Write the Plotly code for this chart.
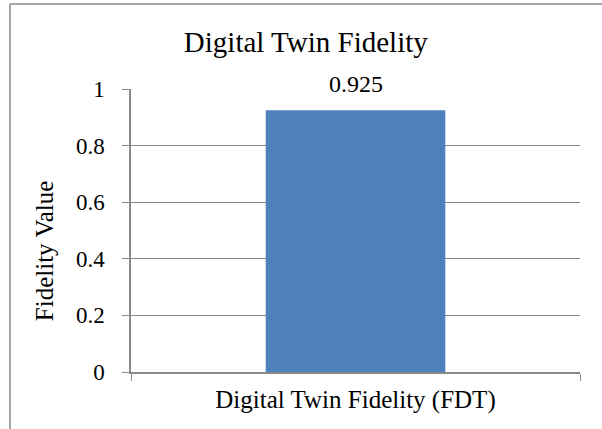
import plotly.graph_objects as go

categories = ["Digital Twin Fidelity (FDT)"]
values = [0.925]
value_labels = ["0.925"]
y_ticks = [0, 0.2, 0.4, 0.6, 0.8, 1]

grey = "#898989"
serif = "Liberation Serif, Times New Roman, serif"

fig = go.Figure()
fig.add_trace(go.Bar(
    x=categories,
    y=values,
    width=0.4,
    marker=dict(color="#4F81BD", line=dict(width=0)),
    showlegend=False,
    hoverinfo="skip",
))

# value label above the bar (it overlaps the top gridline in the reference)
for c, v, t in zip(categories, values, value_labels):
    fig.add_annotation(x=c, y=v, text=t, showarrow=False, yanchor="bottom",
                       yshift=11, font=dict(family=serif, size=24, color="black"))

# y axis title, sitting a little below the plot centre as in the reference
fig.add_annotation(text="Fidelity Value", xref="paper", yref="paper",
                   x=-0.194, y=0.43, textangle=-90, showarrow=False,
                   xanchor="center", yanchor="middle",
                   font=dict(family=serif, size=25, color="black"))

# chart frame (only left and top edges visible in the reference)
fig.add_shape(type="line", xref="paper", yref="paper", x0=-0.2695, x1=-0.2695,
              y0=-0.3, y1=1.3004, line=dict(color=grey, width=1.5))
fig.add_shape(type="line", xref="paper", yref="paper", x0=-0.2695, x1=1.2,
              y0=1.3004, y1=1.3004, line=dict(color=grey, width=1.5))

fig.update_layout(
    width=602, height=429,
    margin=dict(l=131, r=22, t=89, b=57),
    paper_bgcolor="white", plot_bgcolor="white",
    font=dict(family=serif, size=20, color="black"),
    title=dict(text="Digital Twin Fidelity", xref="container", x=0.508,
               xanchor="center", y=0.902, yanchor="middle", font=dict(size=29)),
    xaxis=dict(type="category", tickson="boundaries", ticks="outside", ticklen=7,
               tickcolor=grey, showline=True, linecolor=grey, linewidth=1.5,
               showgrid=False, tickfont=dict(size=25), ticklabelstandoff=4),
    yaxis=dict(range=[0, 1], tickvals=y_ticks, ticks="outside", ticklen=7,
               tickcolor=grey, showline=True, linecolor=grey, linewidth=1.5,
               showgrid=True, gridcolor=grey, gridwidth=1.2, zeroline=False,
               tickfont=dict(size=23), ticklabelstandoff=13),
)

# page body has a default 8px margin; remove it so the figure sits at 0,0
fig.write_html("out.html", config={"displayModeBar": False},
               post_script="document.body.style.margin='0';")
